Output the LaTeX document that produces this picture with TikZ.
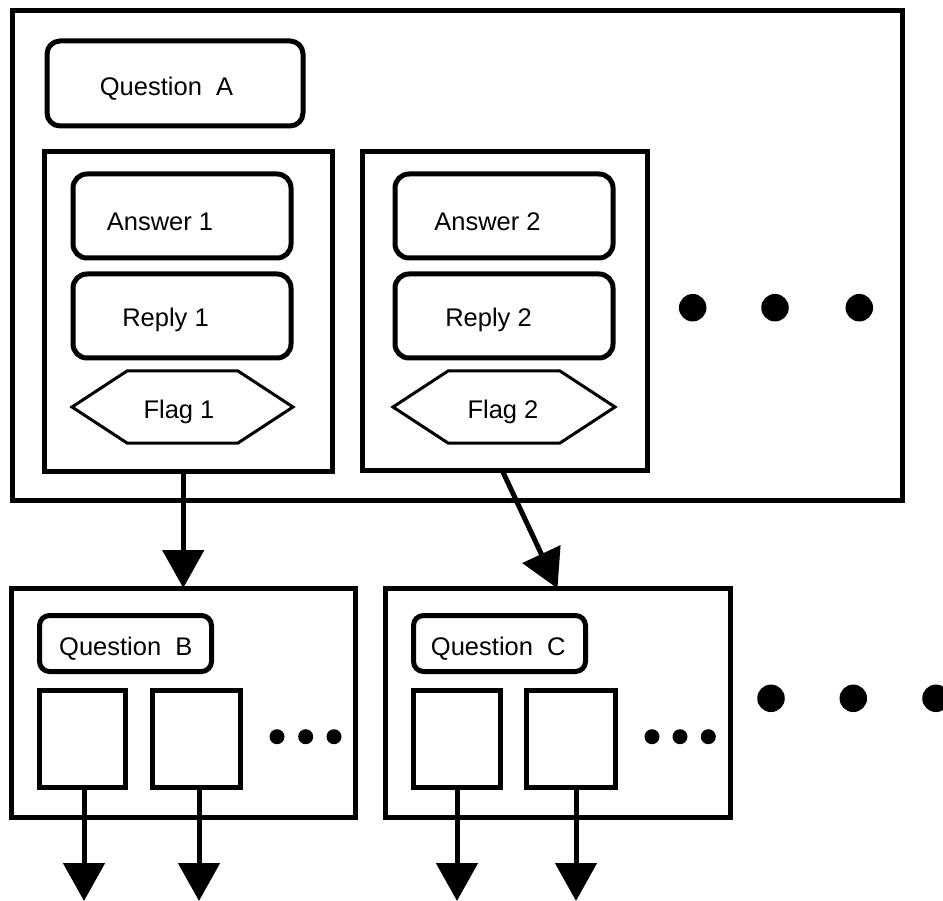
\documentclass[tikz,border=0pt]{standalone}
\usepackage{fontspec}
\setmainfont{Liberation Sans}
\usetikzlibrary{arrows.meta,fit}
\begin{document}
\begin{tikzpicture}[x=1pt,y=-1pt,
  frame/.style={draw, line width=5pt, inner sep=0pt, outer sep=0pt},
  rbox/.style={frame, rounded corners=14pt},
  qbox/.style={frame, rounded corners=10pt},
  flagline/.style={draw, line width=3pt, line join=miter},
  lbl/.style={font=\fontsize{25.5}{30}\selectfont, inner sep=0pt, anchor=base},
  arr/.style={line width=5pt, -{Triangle[length=38pt,width=41pt]}},
  bigdot/.style={fill, circle, minimum size=27.5pt, inner sep=0pt},
  smalldot/.style={fill, circle, minimum size=15pt, inner sep=0pt}
]
\useasboundingbox (0,0) rectangle (943,901);

% outer container
\node[frame, fit={(12.5,10.5) (902.5,500)}] (outer) {};
\node[rbox, rounded corners=13pt, fit={(47,41) (303,126)}] (qa) {};
\node[lbl] (qatext) at (166.5,96) {Question\ \ A};

% group 1
\node[frame, fit={(44,152) (332.5,471)}] (g1) {};
\node[rbox, fit={(73,174) (291,258)}] (a1) {};
\node[lbl] (a1text) at (160,231) {Answer 1};
\node[rbox, fit={(73,274) (291,358)}] (r1) {};
\node[lbl] (r1text) at (165.5,326.5) {Reply 1};
\draw[flagline] (72,407) -- (127,371) -- (238,371) -- (293,407) -- (238,443) -- (127,443) -- cycle;
\node[lbl] (f1text) at (179,418) {Flag 1};

% group 2
\node[frame, fit={(362.5,152) (647.5,470)}] (g2) {};
\node[rbox, fit={(395,174) (613,258)}] (a2) {};
\node[lbl] (a2text) at (487.5,231) {Answer 2};
\node[rbox, fit={(395,274) (613,358)}] (r2) {};
\node[lbl] (r2text) at (488.5,326.5) {Reply 2};
\draw[flagline] (393,407) -- (448,371) -- (560,371) -- (615,407) -- (560,443) -- (448,443) -- cycle;
\node[lbl] (f2text) at (503,418) {Flag 2};

% upper dots
\node[bigdot] (ud1) at (692.7,307.7) {};
\node[bigdot] (ud2) at (775,307.7) {};
\node[bigdot] (ud3) at (859.3,307.7) {};

% box B
\node[frame, fit={(11,588) (355.5,817.5)}] (bb) {};
\node[qbox, fit={(39.5,615.5) (211.5,671.5)}] (qb) {};
\node[lbl] (qbtext) at (125.8,655) {Question\ \ B};
\node[frame, fit={(39.5,690) (125.5,787.5)}] (b1) {};
\node[frame, fit={(152.5,690) (240.5,787.5)}] (b2) {};
\node[smalldot] (bd1) at (277,736.7) {};
\node[smalldot] (bd2) at (305.7,736.7) {};
\node[smalldot] (bd3) at (334,736.7) {};

% box C
\node[frame, fit={(385,588.5) (730,817.5)}] (cc) {};
\node[qbox, fit={(413.5,615.5) (585.5,671.5)}] (qc) {};
\node[lbl] (qctext) at (498.3,655) {Question\ \ C};
\node[frame, fit={(413.5,690) (500,787.5)}] (c1) {};
\node[frame, fit={(526.5,690) (615,787.5)}] (c2) {};
\node[smalldot] (cd1) at (652,736.7) {};
\node[smalldot] (cd2) at (680,736.7) {};
\node[smalldot] (cd3) at (708.3,736.7) {};

% lower dots
\node[bigdot] (ld1) at (771,698.3) {};
\node[bigdot] (ld2) at (853.3,698.3) {};
\node[bigdot] (ld3) at (936,698.3) {};

% connectors
\draw[arr] (bb.north |- g1.south) -- (bb.north);
\draw[arr] (502,470) -- (cc.north);
\coordinate (eb1) at (84,901);
\coordinate (eb2) at (199,901);
\coordinate (ec1) at (457,901);
\coordinate (ec2) at (576,901);
\draw[arr] (eb1 |- b1.south) -- (eb1);
\draw[arr] (eb2 |- b2.south) -- (eb2);
\draw[arr] (ec1 |- c1.south) -- (ec1);
\draw[arr] (ec2 |- c2.south) -- (ec2);
\end{tikzpicture}
\end{document}
